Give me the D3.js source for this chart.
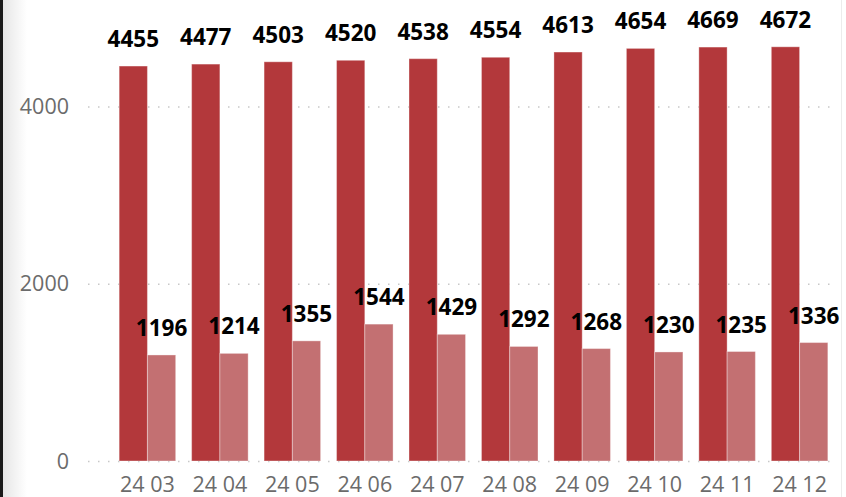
<!DOCTYPE html>
<html>
<head>
<meta charset="utf-8">
<script src="https://cdn.jsdelivr.net/npm/d3@7"></script>
<style>
  html, body { margin: 0; padding: 0; background: #fff; }
  svg { display: block; }
</style>
</head>
<body>
<svg id="chart" width="846" height="497"></svg>
<script>
// Monthly counts: total (dark) and subset (light)
const months = ["24 03", "24 04", "24 05", "24 06", "24 07", "24 08", "24 09", "24 10", "24 11", "24 12"];
const totalValues = [4455, 4477, 4503, 4520, 4538, 4554, 4613, 4654, 4669, 4672];
const subsetValues = [1196, 1214, 1355, 1544, 1429, 1292, 1268, 1230, 1235, 1336];
const yTickValues = [0, 2000, 4000];

const svg = d3.select("#chart");
const W = 846, H = 497;

// left frame edge with soft shadow
const defs = svg.append("defs");
const grad = defs.append("linearGradient").attr("id", "shade").attr("x1", 0).attr("x2", 1);
grad.append("stop").attr("offset", 0).attr("stop-color", "#e6e6e6");
grad.append("stop").attr("offset", 1).attr("stop-color", "#ffffff");
svg.append("rect").attr("x", 3).attr("y", 0).attr("width", 24).attr("height", H).attr("fill", "url(#shade)");
svg.append("rect").attr("x", 0).attr("y", 0).attr("width", 3).attr("height", H).attr("fill", "#1a1a1a");
svg.append("line").attr("x1", 841.5).attr("x2", 841.5).attr("y1", 0).attr("y2", H)
  .attr("stroke", "#ececec").attr("stroke-width", 1);

const plotLeft = 88, plotRight = 838;

const x = d3.scaleBand().domain(months).range([88, 859]).paddingInner(0.22).paddingOuter(0.43);
const sub = d3.scaleBand().domain(["total", "subset"]).range([0, x.bandwidth()]);
const y = d3.scaleLinear().domain([0, 5200]).range([461, 0]);

// dotted gridlines
svg.append("g").selectAll("line").data(yTickValues).join("line")
  .attr("x1", plotLeft).attr("x2", plotRight)
  .attr("y1", d => y(d) + 0.5).attr("y2", d => y(d) + 0.5)
  .attr("stroke", "#c8c8c8").attr("stroke-width", 1.5)
  .attr("stroke-dasharray", "1.5 8.5");

// y axis labels
const tickFont = "'Open Sans', 'Noto Sans', sans-serif";
svg.append("g").selectAll("text").data(yTickValues).join("text")
  .attr("x", 69).attr("y", d => y(d) + 7.5)
  .attr("text-anchor", "end")
  .attr("font-family", tickFont).attr("font-size", 21.5)
  .attr("fill", "#6b6b6b")
  .text(d => d);

// x axis labels
svg.append("g").selectAll("text").data(months).join("text")
  .attr("x", d => x(d) + x.bandwidth() / 2).attr("y", 491.5)
  .attr("text-anchor", "middle")
  .attr("font-family", tickFont).attr("font-size", 21.5)
  .attr("fill", "#6b6b6b")
  .text(d => d);

const rows = months.map((m, i) => ({ m, total: totalValues[i], subset: subsetValues[i] }));
const colors = { total: "#b3383b", subset: "#c37072" };

const groups = svg.append("g").selectAll("g").data(rows).join("g")
  .attr("transform", d => `translate(${x(d.m)},0)`);

const barData = d => [{ key: "total", v: d.total }, { key: "subset", v: d.subset }];

groups.selectAll("rect").data(barData).join("rect")
  .attr("x", d => sub(d.key))
  .attr("y", d => y(d.v))
  .attr("width", sub.bandwidth())
  .attr("height", d => y(0) - y(d.v))
  .attr("fill", d => colors[d.key])
  .attr("stroke", "#ffffff").attr("stroke-opacity", 0.35).attr("stroke-width", 1);

// value labels on top of everything
const labelLayer = svg.append("g");
rows.forEach(r => {
  barData(r).forEach(d => {
    labelLayer.append("text")
      .attr("x", x(r.m) + sub(d.key) + sub.bandwidth() / 2)
      .attr("y", y(d.v) - 19)
      .attr("text-anchor", "middle")
      .attr("font-family", "'Open Sans', 'Noto Sans', sans-serif")
      .attr("font-weight", "bold").attr("font-size", 22.5)
      .attr("fill", "#000")
      .text(d.v);
  });
});
</script>
</body>
</html>
